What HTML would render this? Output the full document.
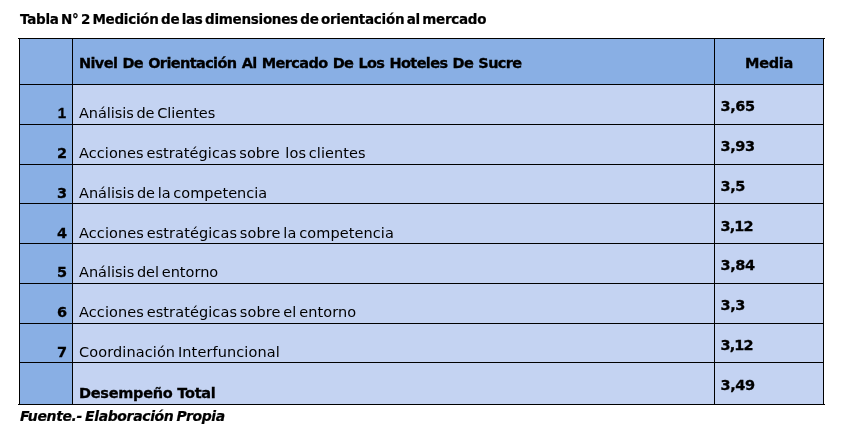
<!DOCTYPE html>
<html lang="es">
<head>
<meta charset="utf-8">
<title>Tabla N° 2 Medición de las dimensiones de orientación al mercado</title>
<style>
html,body{margin:0;padding:0;background:#fff;}
body{width:853px;height:437px;position:relative;overflow:hidden;font-family:"DejaVu Sans","Liberation Sans",sans-serif;color:#000;}
.title{position:absolute;left:20px;top:10px;font-size:13.5px;line-height:18px;font-weight:bold;white-space:nowrap;letter-spacing:-0.28px;word-spacing:-2px;}
.src{position:absolute;left:20px;top:407px;font-size:14px;line-height:18px;font-weight:bold;font-style:italic;white-space:nowrap;letter-spacing:-0.37px;word-spacing:-1.5px;}
table{position:absolute;left:19px;top:38px;width:805px;border-collapse:separate;border-spacing:0;table-layout:fixed;font-size:14.5px;line-height:16px;}
td,th{box-sizing:border-box;border-top:1px solid #000;border-left:1px solid #000;padding:0;white-space:pre;overflow:hidden;text-align:left;font-weight:normal;}
td:last-child,th:last-child{border-right:1px solid #000;}
tr:last-child td{border-bottom:1px solid #000;}
col.c1{width:53px}col.c2{width:642px}col.c3{width:110px}
.d{background:#89afe4;}
.l{background:#c4d3f2;}
th{font-weight:bold;vertical-align:bottom;padding-bottom:13px;letter-spacing:-0.62px;word-spacing:0.7px;}
th.h2{padding-left:6px;}
th.h3{text-align:center;letter-spacing:-0.3px;}
td.n{font-weight:bold;text-align:right;padding-right:5px;vertical-align:bottom;padding-bottom:3px;}
td.t{padding-left:6px;vertical-align:bottom;padding-bottom:3px;word-spacing:-1.9px;}
td.v{font-weight:bold;padding-left:5.5px;vertical-align:top;padding-top:13px;letter-spacing:-0.4px;}
td.b{font-weight:bold;letter-spacing:-0.27px;word-spacing:0;}
td.s1{letter-spacing:0.09px;}
td.s2{letter-spacing:0.1px;}
td.s0{letter-spacing:-0.05px;}
td.s3{letter-spacing:0.065px;}
tr.u td.n,tr.u td.t{padding-bottom:2px;}
tr.w td.v{padding-top:14px;}
td.o{font-family:"Liberation Sans","DejaVu Sans",sans-serif;font-size:15px;padding-right:6px;}
td.k{letter-spacing:-0.9px;}
th,td.n,td.v,td.b{-webkit-text-stroke:0.3px #000;}
.title,.src{-webkit-text-stroke:0.2px #000;}
.ext{position:absolute;width:1px;height:1px;background:#000;}
</style>
</head>
<body>
<div class="title">Tabla N° 2 Medición de las dimensiones de orientación al mercado</div>
<table>
<colgroup><col class="c1"><col class="c2"><col class="c3"></colgroup>
<tr style="height:46px"><th class="d"></th><th class="d h2">Nivel De Orientación Al Mercado De Los Hoteles De Sucre</th><th class="d h3">Media</th></tr>
<tr style="height:40px"><td class="d n o">1</td><td class="l t s0">Análisis de Clientes</td><td class="l v">3,65</td></tr>
<tr style="height:40px"><td class="d n">2</td><td class="l t s3">Acciones estratégicas sobre  los clientes</td><td class="l v">3,93</td></tr>
<tr style="height:39px" class="u"><td class="d n">3</td><td class="l t">Análisis de la competencia</td><td class="l v">3,5</td></tr>
<tr style="height:40px" class="u w"><td class="d n">4</td><td class="l t s1">Acciones estratégicas sobre la competencia</td><td class="l v k">3,12</td></tr>
<tr style="height:40px"><td class="d n">5</td><td class="l t">Análisis del entorno</td><td class="l v">3,84</td></tr>
<tr style="height:40px"><td class="d n">6</td><td class="l t s1">Acciones estratégicas sobre el entorno</td><td class="l v">3,3</td></tr>
<tr style="height:39px" class="u"><td class="d n">7</td><td class="l t s2">Coordinación Interfuncional</td><td class="l v k">3,12</td></tr>
<tr style="height:43px" class="w"><td class="d n"></td><td class="l t b">Desempeño Total</td><td class="l v">3,49</td></tr>
</table>
<div class="ext" style="left:18px;top:38px"></div>
<div class="ext" style="left:824px;top:38px"></div>
<div class="ext" style="left:18px;top:404px"></div>
<div class="ext" style="left:824px;top:404px"></div>
<div class="src">Fuente.- Elaboración Propia</div>
</body>
</html>
